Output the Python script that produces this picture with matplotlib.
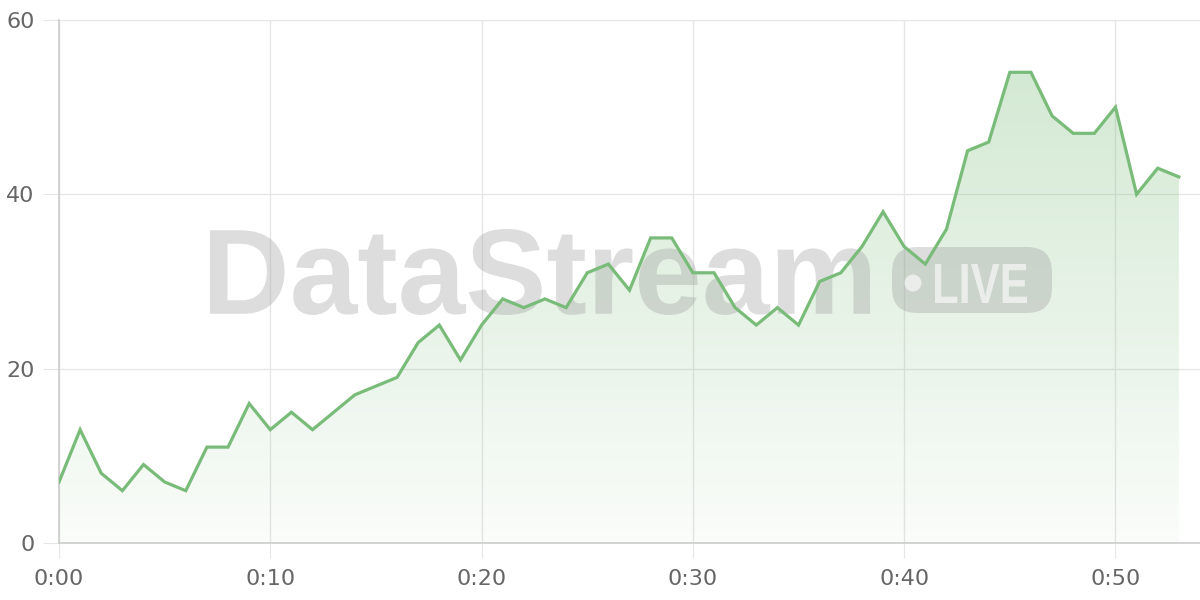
import matplotlib.pyplot as plt
import numpy as np
from matplotlib.patches import FancyBboxPatch, Ellipse, PathPatch
from matplotlib.colors import LinearSegmentedColormap
from matplotlib.textpath import TextPath
from matplotlib.font_manager import FontProperties
from matplotlib.transforms import Affine2D

# dati (un punto al minuto)
minuti = np.arange(0, 54)
valori = [7, 13, 8, 6, 9, 7, 6, 11, 11, 16,
          13, 15, 13, 15, 17, 18, 19, 23, 25, 21,
          25, 28, 27, 28, 27, 31, 32, 29, 35, 35,
          31, 31, 27, 25, 27, 25, 30, 31, 34, 38,
          34, 32, 36, 45, 46, 54, 54, 49, 47, 47,
          50, 40, 43, 42]
tick_x = [0, 10, 20, 30, 40, 50]
tick_x_lab = ['0:00', '0:10', '0:20', '0:30', '0:40', '0:50']
tick_y = [0, 20, 40, 60]

verde = '#79bb79'
grigio_txt = '#666666'

plt.rcParams['font.family'] = ['DejaVu Sans']

fig = plt.figure(figsize=(12, 6), dpi=100)
ax = fig.add_axes([59/1200, 57/600, 1 - 59/1200, 523/600])

ax.set_xlim(0, 54)
ax.set_ylim(0, 60)

# riempimento con gradiente
cmap = LinearSegmentedColormap.from_list('g', [(0.47, 0.73, 0.47, 0.04), (0.47, 0.73, 0.47, 0.32)])
grad = np.linspace(0, 1, 256).reshape(-1, 1)
img = ax.imshow(grad, cmap=cmap, aspect='auto', origin='lower',
                extent=[0, 53, 0, 54], zorder=1)
clip = plt.Polygon(np.column_stack([np.r_[minuti, 53, 0], np.r_[valori, 0, 0]]),
                   transform=ax.transData, facecolor='none', edgecolor='none')
ax.add_patch(clip)
img.set_clip_path(clip)

ax.plot(minuti, valori, color=verde, lw=2.3, zorder=4, solid_joinstyle='miter')

# griglia
ax.set_xticks(tick_x)
ax.set_xticklabels(tick_x_lab)
ax.set_yticks(tick_y)
ax.grid(color='#e6e6e6', lw=1, zorder=0)
ax.set_axisbelow(True)
for s in ['top', 'right']:
    ax.spines[s].set_visible(False)
ax.spines['left'].set_color('#cccccc')
ax.spines['bottom'].set_color('#cccccc')
ax.spines['left'].set_linewidth(1.2)
ax.spines['bottom'].set_linewidth(1.2)
ax.tick_params(axis='y', length=11.5, color='#e6e6e6', labelsize=16, labelcolor=grigio_txt, pad=6)
ax.tick_params(axis='x', length=11, color='#e6e6e6', labelsize=16, labelcolor=grigio_txt, pad=8)


# watermark: testo adattato a un riquadro in pixel
def testo_in_box(testo, x0, y0, x1, y1, colore, alpha, z):
    fp = FontProperties(family='Liberation Sans', weight='bold')
    tp = TextPath((0, 0), testo, size=100, prop=fp)
    bb = tp.get_extents()
    tr = (Affine2D().translate(-bb.x0, -bb.y0)
          .scale((x1 - x0) / bb.width / 100, (y1 - y0) / bb.height / 100)
          .translate(x0 / 100, (600 - y1) / 100))
    p = PathPatch(tr.transform_path(tp), transform=fig.dpi_scale_trans,
                  facecolor=colore, edgecolor='none', alpha=alpha, zorder=z, clip_on=False)
    ax.add_artist(p)


testo_in_box('DataStream', 210, 229, 870, 315, '#999999', 0.33, 3)

badge = FancyBboxPatch((892/100, (600 - 313)/100), 160/100, 66/100,
                       boxstyle='round,pad=0,rounding_size=0.25',
                       transform=fig.dpi_scale_trans, facecolor='#999999', alpha=0.33,
                       edgecolor='none', zorder=3, clip_on=False)
ax.add_artist(badge)
ax.add_artist(Ellipse((913/100, (600 - 283)/100), 0.17, 0.17, transform=fig.dpi_scale_trans,
                      facecolor='white', alpha=0.6, edgecolor='none', zorder=3, clip_on=False))
testo_in_box('LIVE', 935, 264, 1027, 303, 'white', 0.6, 3)

fig.savefig('out.png', dpi=100)
